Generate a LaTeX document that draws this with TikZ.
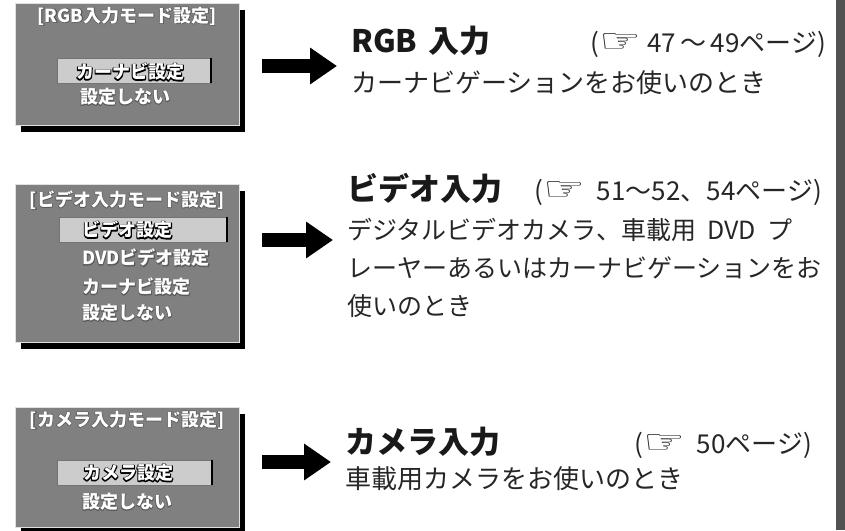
\documentclass[tikz,border=0pt]{standalone}
\usepackage{fontspec}
\usepackage{xcolor}
\usepackage{graphicx}
\usepackage{tikz}
\usetikzlibrary{arrows.meta, positioning, shadows}
\setmainfont{Noto Sans CJK JP}
\newfontfamily\symfont{DejaVu Sans}
\newcommand{\pointhand}{\resizebox{42pt}{19pt}{\symfont ☞}}
% white OSD text with a dark outline: stroke pass first, white fill on top
\newcommand{\osdtext}[3]{\rlap{\special{pdf:literal direct #1 RG #2 w 1 Tr 1 j}#3\special{pdf:literal direct 0 Tr 0.4 w}}#3}

\begin{document}
\begin{tikzpicture}[
  x=1pt, y=1pt,
  menu/.style={
    rectangle,
    draw=black!12,
    line width=0.8pt,
    fill=black!50,
    minimum width=224pt,
    inner sep=0pt,
    drop shadow={shadow xshift=6pt, shadow yshift=-7pt, fill=black, opacity=1}
  },
  selbar/.style={
    rectangle,
    draw=black!55,
    line width=0.5pt,
    fill=black!20,
    minimum height=25pt,
    inner sep=0pt
  },
  osd/.style={
    font=\fontsize{18}{18}\selectfont\bfseries,
    text=white,
    inner sep=0pt
  },
  head/.style={
    font=\fontsize{31}{31}\selectfont\bfseries,
    anchor=base west,
    inner sep=0pt,
    text=black!90
  },
  pageref/.style={
    font=\fontsize{26}{26}\selectfont,
    anchor=base east,
    inner sep=0pt,
    text=black!85
  },
  desc/.style={
    font=\fontsize{26}{38}\selectfont,
    anchor=north west,
    inner sep=0pt,
    align=left,
    text=black!85
  },
  bigarrow/.style={
    -{Triangle[length=27pt, width=35pt]},
    line width=14pt,
    shorten >=14pt
  }
]
\useasboundingbox (0,0) rectangle (845,-530);

% Right edge bar
\fill[black!68] (836,0) rectangle (845,-530);

% RGB input mode menu
\node[menu, minimum height=122pt] (rgbmenu) at (127,-64) {};
\node[osd] (rgbtitle) at (127,-16) {\osdtext{0.35 0.35 0.35}{1.2}{[RGB入力モード設定]}};
\node[selbar, minimum width=154pt] (rgbsel) at (134,-70.5) {};
\draw[line width=2pt] (rgbsel.north east) -- (rgbsel.south east);
\node[osd] (rgbcar) at (130,-72) {\osdtext{0 0 0}{2}{カーナビ設定}};
\node[osd] (rgbnone) at (125,-97) {\osdtext{0.35 0.35 0.35}{1.2}{設定しない}};

% Video input mode menu
\node[menu, minimum height=158pt] (videomenu) at (127,-263) {};
\node[osd] (videotitle) at (127,-200) {\osdtext{0.35 0.35 0.35}{1.2}{[ビデオ入力モード設定]}};
\node[selbar, minimum width=168pt] (videosel) at (143,-229.5) {};
\draw[line width=2pt] (videosel.north east) -- (videosel.south east);
\node[osd, anchor=west] (videovid) at (82,-230) {\osdtext{0 0 0}{2}{ビデオ設定}};
\node[osd, anchor=west] (videodvd) at (82,-258) {\osdtext{0.35 0.35 0.35}{1.2}{DVDビデオ設定}};
\node[osd, anchor=west] (videocar) at (82,-287) {\osdtext{0.35 0.35 0.35}{1.2}{カーナビ設定}};
\node[osd, anchor=west] (videonone) at (82,-313) {\osdtext{0.35 0.35 0.35}{1.2}{設定しない}};

% Camera input mode menu
\node[menu, minimum height=120pt] (cameramenu) at (127,-467) {};
\node[osd] (cameratitle) at (127,-420) {\osdtext{0.35 0.35 0.35}{1.2}{[カメラ入力モード設定]}};
\node[selbar, minimum width=155pt] (camerasel) at (134.5,-472.5) {};
\draw[line width=2pt] (camerasel.north east) -- (camerasel.south east);
\node[osd] (cameracam) at (128,-473) {\osdtext{0 0 0}{2}{カメラ設定}};
\node[osd] (cameranone) at (127,-502) {\osdtext{0.35 0.35 0.35}{1.2}{設定しない}};

% Descriptions
\node[head] (rgbhead) at (351,-52) {RGB\hspace{0.35em}入力};
\node[pageref] (rgbref) at (826,-52) {(\pointhand\ 47\,～\,49ページ)};
\node[desc] (rgbdesc) at (351,-70) {カーナビゲーションをお使いのとき};

\node[head] (videohead) at (347,-200) {ビデオ入力};
\node[pageref] (videoref) at (822,-200) {(\pointhand\ \ 51～52、54ページ)};
\node[desc, font=\fontsize{25}{38}\selectfont] (videodesc) at (347,-218)
  {デジタルビデオカメラ、車載用\hspace{0.45em}DVD\hspace{0.45em}プ\\レーヤーあるいはカーナビゲーションをお\\使いのとき};

\node[head] (camerahead) at (345,-453) {カメラ入力};
\node[pageref] (cameraref) at (812,-453) {(\pointhand\ \ 50ページ)};
\node[desc] (cameradesc) at (345,-466) {車載用カメラをお使いのとき};

% Arrows
\coordinate (rgbarrow) at (262,-66);
\coordinate (videoarrow) at (262,-240);
\coordinate (cameraarrow) at (262,-462);
\draw[bigarrow] (rgbarrow) -- (rgbarrow -| rgbhead.west);
\draw[bigarrow] (videoarrow) -- (videoarrow -| videohead.west);
\draw[bigarrow] (cameraarrow) -- (cameraarrow -| camerahead.west);
\end{tikzpicture}
\end{document}
